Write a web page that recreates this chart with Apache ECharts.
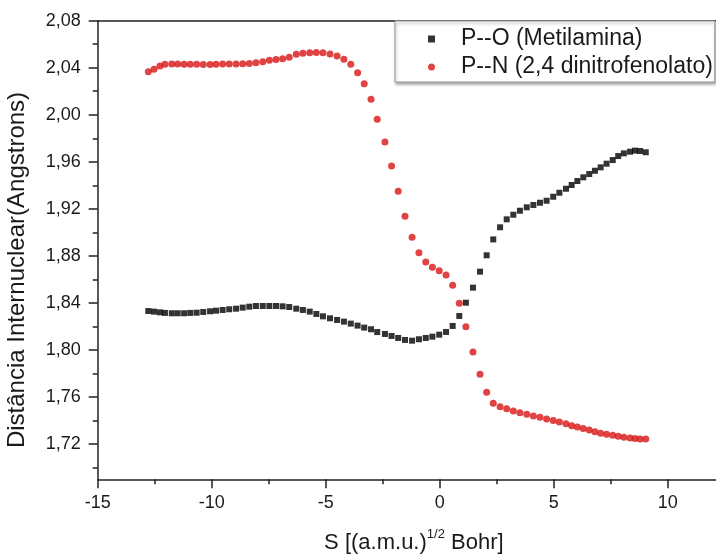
<!DOCTYPE html>
<html>
<head>
<meta charset="utf-8">
<script src="https://cdn.jsdelivr.net/npm/echarts@6/dist/echarts.min.js"></script>
<style>
  html, body { margin: 0; padding: 0; background: #fff; }
  #irc-chart { width: 716px; height: 554px; }
</style>
</head>
<body>
<div id="irc-chart"></div>
<script>
// reaction coordinate S, same for both curves
const sValues = [
  -12.78, -12.53, -12.27, -12.05, -11.75, -11.49, -11.21, -10.94, -10.66, -10.37,
  -10.07, -9.81, -9.52, -9.23, -8.93, -8.64, -8.35, -8.06, -7.76, -7.47,
  -7.18, -6.89, -6.60, -6.29, -6.00, -5.70, -5.41, -5.12, -4.81, -4.50,
  -4.20, -3.90, -3.60, -3.31, -3.01, -2.74, -2.40, -2.11, -1.82, -1.52,
  -1.21, -0.91, -0.61, -0.32, -0.02, 0.28, 0.57, 0.86, 1.15, 1.46,
  1.77, 2.06, 2.35, 2.65, 2.94, 3.23, 3.52, 3.82, 4.11, 4.40,
  4.69, 4.98, 5.25, 5.54, 5.79, 6.04, 6.30, 6.56, 6.81, 7.06,
  7.32, 7.59, 7.83, 8.08, 8.35, 8.57, 8.79, 9.04
];
// P--O (Metilamina)
const poValues = [
  1.8331, 1.8326, 1.8320, 1.8315, 1.8312, 1.8312, 1.8312, 1.8315, 1.8317, 1.8323,
  1.8329, 1.8334, 1.8340, 1.8346, 1.8351, 1.8360, 1.8368, 1.8374, 1.8374, 1.8374,
  1.8374, 1.8371, 1.8365, 1.8351, 1.8340, 1.8326, 1.8306, 1.8286, 1.8269, 1.8255,
  1.8241, 1.8224, 1.8207, 1.8190, 1.8176, 1.8152, 1.8136, 1.8119, 1.8102, 1.8085,
  1.8079, 1.8091, 1.8102, 1.8113, 1.8130, 1.8153, 1.8204, 1.8289, 1.8402, 1.8530,
  1.8666, 1.8805, 1.8940, 1.9043, 1.9111, 1.9150, 1.9184, 1.9213, 1.9233, 1.9252,
  1.9269, 1.9303, 1.9337, 1.9371, 1.9403, 1.9437, 1.9468, 1.9496, 1.9524, 1.9553,
  1.9584, 1.9615, 1.9649, 1.9672, 1.9686, 1.9695, 1.9692, 1.9681
];
// P--N (2,4 dinitrofenolato)
const pnValues = [
  2.0366, 2.0387, 2.0415, 2.0429, 2.0432, 2.0432, 2.0429, 2.0429, 2.0429, 2.0427,
  2.0427, 2.0429, 2.0432, 2.0432, 2.0432, 2.0434, 2.0437, 2.0443, 2.0451, 2.0463,
  2.0471, 2.0477, 2.0489, 2.0514, 2.0523, 2.0528, 2.0529, 2.0528, 2.0517, 2.0500,
  2.0472, 2.0429, 2.0358, 2.0264, 2.0132, 1.9962, 1.9768, 1.9564, 1.9349, 1.9137,
  1.8958, 1.8827, 1.8748, 1.8703, 1.8674, 1.8638, 1.8550, 1.8397, 1.8198, 1.7983,
  1.7793, 1.7640, 1.7547, 1.7518, 1.7501, 1.7481, 1.7467, 1.7453, 1.7439, 1.7427,
  1.7413, 1.7399, 1.7388, 1.7373, 1.7356, 1.7345, 1.7331, 1.7320, 1.7305, 1.7292,
  1.7283, 1.7275, 1.7266, 1.7258, 1.7252, 1.7246, 1.7243, 1.7243
];

const xMajorTicks = [-15, -10, -5, 0, 5, 10];
const yMajorTicks = [1.72, 1.76, 1.80, 1.84, 1.88, 1.92, 1.96, 2.00, 2.04, 2.08];

const axisColor = "#222";
const textColor = "#1a1a1a";
const font = "Liberation Sans, Arial, sans-serif";

const chart = echarts.init(document.getElementById("irc-chart"));
chart.setOption({
  animation: false,
  textStyle: { fontFamily: font },
  grid: [
    { left: 97.7, top: 20.7, right: 0, bottom: 74.7, outerBoundsMode: "none" },
    // only used for the small x ticks
    { left: 154.7, width: 456, top: 20.7, bottom: 74.7, outerBoundsMode: "none" },
    // only used for the small y ticks
    { left: 97.7, right: 0, top: 44.2, bottom: 86.5, outerBoundsMode: "none" },
  ],
  legend: {
    left: 395,
    top: 21,
    orient: "vertical",
    padding: [6, 2, 3, 33],
    itemGap: 4,
    itemWidth: 7,
    itemHeight: 7,
    borderColor: "#999",
    borderWidth: 1,
    backgroundColor: "#fff",
    shadowColor: "rgba(0,0,0,0.35)",
    shadowBlur: 3,
    shadowOffsetX: 1,
    shadowOffsetY: 2,
    textStyle: {
      fontSize: 23,
      lineHeight: 24,
      color: textColor,
      padding: [0, 0, 0, 21],
    },
    data: [
      { name: "P--O (Metilamina)", icon: "rect" },
      { name: "P--N (2,4 dinitrofenolato)", icon: "circle" },
    ],
  },
  xAxis: [
    {
      gridIndex: 0,
      type: "value",
      min: -15,
      max: 12.12,
      position: "bottom",
      axisLine: { onZero: false, lineStyle: { color: axisColor, width: 1.5 } },
      axisTick: { customValues: xMajorTicks, length: 9, lineStyle: { color: axisColor, width: 1.5 } },
      axisLabel: { customValues: xMajorTicks, margin: 15, fontSize: 18, color: textColor },
      splitLine: { show: false },
      name: "{a|S [(a.m.u.)}{b|1/2}{a| Bohr]}",
      nameLocation: "middle",
      nameGap: 49,
      nameTextStyle: {
        padding: [0, 0, 0, 14],
        rich: {
          a: { fontSize: 22, color: textColor, fontFamily: font, lineHeight: 26, verticalAlign: "bottom" },
          b: { fontSize: 13, color: textColor, fontFamily: font, lineHeight: 26, verticalAlign: "top" },
        },
      },
    },
    {
      gridIndex: 0,
      type: "value",
      min: -15,
      max: 12.12,
      position: "top",
      axisLine: { onZero: false, lineStyle: { color: axisColor, width: 1.5 } },
      axisTick: { show: false },
      axisLabel: { show: false },
      splitLine: { show: false },
    },
    {
      gridIndex: 1,
      type: "value",
      min: -12.5,
      max: 7.5,
      interval: 5,
      axisLine: { show: false, onZero: false },
      axisTick: { length: 5, lineStyle: { color: axisColor, width: 1.5 } },
      axisLabel: { show: false },
      splitLine: { show: false },
    },
    { gridIndex: 2, type: "value", show: false, min: 0, max: 1, axisLine: { onZero: false } },
  ],
  yAxis: [
    {
      gridIndex: 0,
      type: "value",
      min: 1.69,
      max: 2.08,
      axisLine: { onZero: false, lineStyle: { color: axisColor, width: 1.5 } },
      axisTick: { customValues: yMajorTicks, length: 9, lineStyle: { color: axisColor, width: 1.5 } },
      axisLabel: {
        customValues: yMajorTicks,
        margin: 17,
        fontSize: 18,
        color: textColor,
        formatter: (v) => v.toFixed(2).replace(".", ","),
      },
      splitLine: { show: false },
      name: "Distância Internuclear(Angstrons)",
      nameLocation: "middle",
      nameGap: 68,
      nameTextStyle: { fontSize: 24, color: textColor, padding: [0, 40, 0, 0] },
    },
    { gridIndex: 1, type: "value", show: false, min: 0, max: 1, axisLine: { onZero: false } },
    {
      gridIndex: 2,
      type: "value",
      min: 1.70,
      max: 2.06,
      interval: 0.04,
      axisLine: { show: false, onZero: false },
      axisTick: { length: 5, lineStyle: { color: axisColor, width: 1.5 } },
      axisLabel: { show: false },
      splitLine: { show: false },
    },
  ],
  series: [
    {
      name: "P--O (Metilamina)",
      type: "scatter",
      xAxisIndex: 0,
      yAxisIndex: 0,
      symbol: "rect",
      symbolSize: 6,
      itemStyle: { color: "#000" },
      data: sValues.map((s, i) => [s, poValues[i]]),
    },
    {
      name: "P--N (2,4 dinitrofenolato)",
      type: "scatter",
      xAxisIndex: 0,
      yAxisIndex: 0,
      symbol: "circle",
      symbolSize: 7,
      itemStyle: { color: "#d81414" },
      data: sValues.map((s, i) => [s, pnValues[i]]),
    },
  ],
});
</script>
</body>
</html>
